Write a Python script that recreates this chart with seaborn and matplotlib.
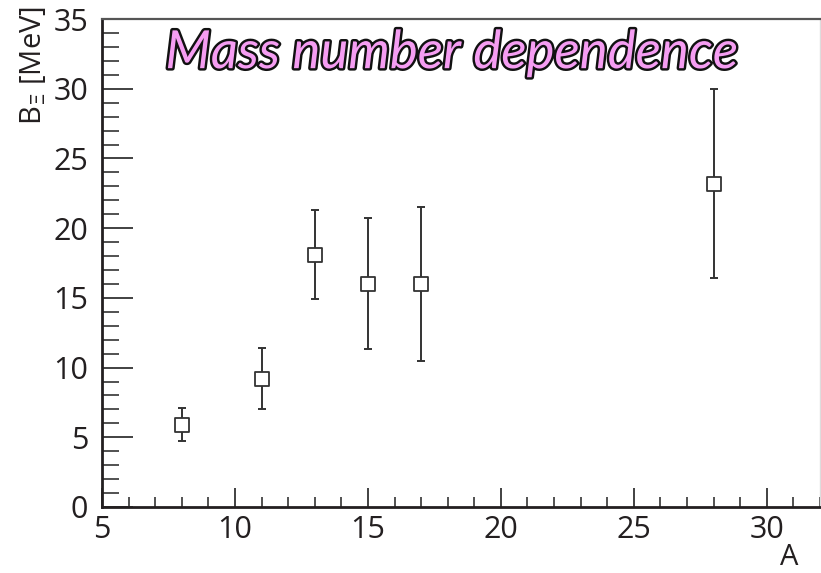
import matplotlib
matplotlib.use("Agg")
import matplotlib.pyplot as plt
import matplotlib.patheffects as pe
from matplotlib.ticker import MultipleLocator
import seaborn as sns
import pandas as pd

# Xi binding energy versus mass number
mass_number = [8, 11, 13, 15, 17, 28]
binding_mev = [5.9, 9.2, 18.1, 16.0, 16.0, 23.2]
binding_err = [1.2, 2.2, 3.2, 4.7, 5.5, 6.8]

df = pd.DataFrame({"A": mass_number, "B": binding_mev, "err": binding_err})

sns.set_theme(style="white")
plt.rcParams["font.family"] = ["Open Sans", "DejaVu Sans"]

fig = plt.figure(figsize=(8.21, 5.73), dpi=100)
ax = fig.add_axes([0.1242, 0.1152, 0.8746, 0.8516])

ink = "#333333"
ax.errorbar(df["A"], df["B"], yerr=df["err"], fmt="none", ecolor=ink,
            elinewidth=1.4, capsize=3, capthick=1.4, zorder=2)
sns.scatterplot(data=df, x="A", y="B", ax=ax, marker="s", s=95,
                facecolor="white", edgecolor=ink, linewidth=1.3, zorder=3)

ax.set_xlim(5, 32)
ax.set_ylim(0, 35)
ax.xaxis.set_major_locator(MultipleLocator(5))
ax.xaxis.set_minor_locator(MultipleLocator(1))
ax.yaxis.set_major_locator(MultipleLocator(5))
ax.yaxis.set_minor_locator(MultipleLocator(1))

text_col = "#231f20"
ax.tick_params(axis="x", which="major", direction="in", length=14, width=1.3,
               color=ink, labelsize=22, labelcolor=text_col, pad=6)
ax.tick_params(axis="x", which="minor", direction="in", length=7, width=1.2, color=ink)
ax.tick_params(axis="y", which="major", direction="in", length=22, width=1.3,
               color=ink, labelsize=22, labelcolor=text_col, pad=10)
ax.tick_params(axis="y", which="minor", direction="in", length=12, width=1.2, color=ink)
ax.tick_params(bottom=True, left=True, top=False, right=False, which="both")

for side in ["left", "bottom"]:
    ax.spines[side].set_color(text_col)
    ax.spines[side].set_linewidth(2.0)
ax.spines["top"].set_color("#555555")
ax.spines["top"].set_linewidth(1.6)
ax.spines["right"].set_color("#dddddd")
ax.spines["right"].set_linewidth(1.0)

ax.set_xlabel("")
ax.set_ylabel("")
fig.text(0.972, 0.002, "A", ha="right", va="bottom", fontsize=21, color=text_col)
fig.text(0.040, 0.99, r"B$_{\Xi}$ [MeV]", rotation=90, ha="center", va="top",
         fontsize=21, color=text_col)

title = ax.text(0.487, 0.93, "Mass number dependence", transform=ax.transAxes,
                ha="center", va="center", fontsize=38, style="italic",
                color="#f59df2", family=["Lato", "DejaVu Sans"])
title.set_path_effects([pe.withStroke(linewidth=3.5, foreground="#111111")])

fig.savefig("out.png", dpi=100)
